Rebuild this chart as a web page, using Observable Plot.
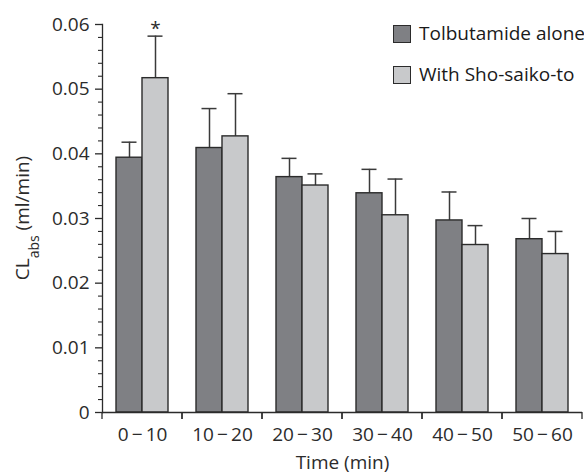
<!DOCTYPE html>
<html>
<head>
<meta charset="utf-8">
<script src="https://cdn.jsdelivr.net/npm/d3@7"></script>
<script src="https://cdn.jsdelivr.net/npm/@observablehq/plot@0.6"></script>
<style>
  html, body { margin: 0; padding: 0; background: #fff; }
  #wrap { position: relative; width: 584px; height: 474px; font-family: "Open Sans", sans-serif; color: #1a1a1a; }
  #legend { position: absolute; left: 393px; top: 24px; font-size: 19px; line-height: 19px; white-space: nowrap; }
  .item { display: flex; align-items: center; height: 19px; margin-bottom: 22px; }
  .sw { width: 16px; height: 16px; border: 1.5px solid #2b2b2b; margin-right: 8px; flex: none; }
</style>
</head>
<body>
<div id="wrap"><div id="legend"></div></div>
<script>
// ---- data ----
const groups = ["0−10", "10−20", "20−30", "30−40", "40−50", "50−60"];
const series = ["Tolbutamide alone", "With Sho-saiko-to"];
const tolbMean = [0.0394, 0.0409, 0.0364, 0.0339, 0.0297, 0.0268];
const tolbErr  = [0.0024, 0.0061, 0.0029, 0.0037, 0.0044, 0.0032];
const shoMean  = [0.0517, 0.0427, 0.0351, 0.0305, 0.0259, 0.0245];
const shoErr   = [0.0065, 0.0066, 0.0018, 0.0056, 0.0030, 0.0035];
const significant = [{group: "0−10", series: "With Sho-saiko-to", mark: "*"}];
const yMajorTicks = [0, 0.01, 0.02, 0.03, 0.04, 0.05, 0.06];
const yMajorLabels = ["0", "0.01", "0.02", "0.03", "0.04", "0.05", "0.06"];
const yMinorTicks = [0.002, 0.004, 0.006, 0.008, 0.012, 0.014, 0.016, 0.018, 0.022, 0.024, 0.026, 0.028,
  0.032, 0.034, 0.036, 0.038, 0.042, 0.044, 0.046, 0.048, 0.052, 0.054, 0.056, 0.058];
const colors = ["#7f8084", "#c8c9cb"];

const rows = groups.flatMap((g, i) => [
  {group: g, series: series[0], value: tolbMean[i], err: tolbErr[i]},
  {group: g, series: series[1], value: shoMean[i], err: shoErr[i]}
]);
const starRows = significant.map(s => {
  const r = rows.find(d => d.group === s.group && d.series === s.series);
  return {...s, top: r.value + r.err};
});

const ink = "#2b2b2b";

// boundary ticks along the bottom of each facet
const boundaryTicks = (index, scales, values, dims) => {
  const y0 = scales.y(0);
  const g = d3.create("svg:g").attr("stroke", ink).attr("stroke-width", 1.3);
  const left = dims.marginLeft, right = dims.width - dims.marginRight;
  for (const x of [left, right]) {
    g.append("line").attr("x1", x).attr("x2", x).attr("y1", y0).attr("y2", y0 + 7);
  }
  return g.node();
};

const chart = Plot.plot({
  width: 584,
  height: 474,
  marginTop: 24,
  marginBottom: 62,
  marginLeft: 100,
  marginRight: 1,
  style: {fontFamily: "Open Sans, sans-serif", fontSize: "19px", color: ink, background: "transparent"},
  fx: {domain: groups, padding: 0},
  x: {domain: series, paddingInner: 0, paddingOuter: 0.49, axis: null},
  y: {domain: [0, 0.06]},
  color: {domain: series, range: colors},
  marks: [
    Plot.ruleX(rows, {fx: "group", x: "series", y1: "value", y2: d => d.value + d.err, stroke: "#3a3a3a", strokeWidth: 1.5}),
    Plot.tickY(rows, {fx: "group", x: "series", y: d => d.value + d.err, stroke: "#3a3a3a", strokeWidth: 1.5, insetLeft: 5.5, insetRight: 5.5}),
    Plot.barY(rows, {fx: "group", x: "series", y: "value", fill: "series", stroke: ink, strokeWidth: 1.4}),
    Plot.text(starRows, {fx: "group", x: "series", y: "top", text: "mark", lineAnchor: "bottom", dy: -1, fontSize: 19, fill: ink}),
    Plot.ruleY([0], {stroke: ink, strokeWidth: 1.3}),
    boundaryTicks,
    Plot.frame({anchor: "left", facetAnchor: "left", stroke: ink, strokeWidth: 1.3}),
    Plot.axisY({ticks: yMajorTicks, tickFormat: d => yMajorLabels[yMajorTicks.indexOf(d)], tickSize: 7, tickPadding: 6, label: null, stroke: ink, strokeWidth: 1.3, fontSize: 19}),
    Plot.axisY({ticks: yMinorTicks, tickFormat: () => "", tickSize: 4, label: null, stroke: ink, strokeWidth: 1.1}),
    Plot.axisFx({anchor: "bottom", tickSize: 0, tickPadding: 15, fontSize: 19,
      tickFormat: d => d.replace("−", "\u2009−\u2009"),
      label: "Time (min)", labelAnchor: "center", labelOffset: 56})
  ]
});

const wrap = document.getElementById("wrap");
wrap.insertBefore(chart, wrap.firstChild);

// y-axis title with subscript
const svg = d3.select(chart);
const yl = svg.append("text")
  .attr("transform", `translate(29, ${(24 + 412) / 2}) rotate(-90)`)
  .attr("text-anchor", "middle")
  .attr("fill", ink)
  .style("font-size", "19px");
yl.append("tspan").text("CL");
yl.append("tspan").attr("baseline-shift", "sub").style("font-size", "14px").text("abs");
yl.append("tspan").text(" (ml/min)");

// legend
const legend = d3.select("#legend");
series.forEach((s, i) => {
  const item = legend.append("div").attr("class", "item");
  item.append("div").attr("class", "sw").style("background", colors[i]);
  item.append("span").text(s);
});
</script>
</body>
</html>
